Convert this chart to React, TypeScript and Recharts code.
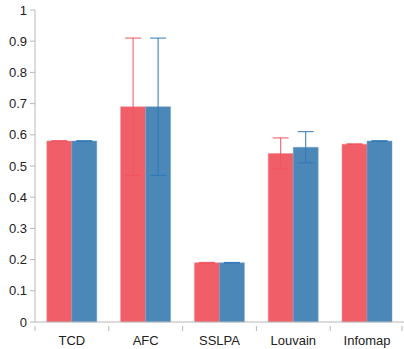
import React from 'react';
import { BarChart, Bar, XAxis, YAxis, ErrorBar } from 'recharts';

const methods = ['TCD', 'AFC', 'SSLPA', 'Louvain', 'Infomap'];
const redValues = [0.58, 0.69, 0.19, 0.54, 0.57];
const redErrors = [0.001, 0.22, 0.001, 0.05, 0.001];
const blueValues = [0.58, 0.69, 0.19, 0.56, 0.58];
const blueErrors = [0.001, 0.22, 0.001, 0.05, 0.001];
const yTicks = [0, 0.1, 0.2, 0.3, 0.4, 0.5, 0.6, 0.7, 0.8, 0.9, 1];

const data = methods.map((name, i) => ({
  name,
  red: redValues[i],
  redErr: redErrors[i],
  blue: blueValues[i],
  blueErr: blueErrors[i],
}));

const axisColor = '#b8b8b8';
const textColor = '#222222';

const CategoryTick = (props: any) => {
  const { x, y, payload, index } = props;
  const half = payload?.offset ?? 37;
  const last = index === methods.length - 1;
  return (
    <g>
      <line x1={x - half} y1={y - 4} x2={x - half} y2={y + 1} stroke={axisColor} />
      {last && <line x1={x + half - 2} y1={y - 4} x2={x + half - 2} y2={y + 1} stroke={axisColor} />}
      <text x={x} y={y + 15} textAnchor="middle" fill={textColor} fontSize={13}>
        {payload.value}
      </text>
    </g>
  );
};

export default function App() {
  return (
    <div style={{ position: 'absolute', left: 0, top: 0, fontFamily: '"Liberation Sans", Arial, sans-serif' }}>
      <BarChart
        width={404}
        height={349}
        data={data}
        margin={{ top: 10, right: 0, bottom: 0, left: 0 }}
        barCategoryGap="16%"
        barGap={0}
      >
        <XAxis
          dataKey="name"
          height={27}
          tickLine={false}
          axisLine={{ stroke: axisColor }}
          tick={<CategoryTick />}
          interval={0}
        />
        <YAxis
          width={35}
          domain={[0, 1]}
          ticks={yTicks}
          interval={0}
          tickSize={5}
          tickMargin={3}
          tickLine={{ stroke: axisColor }}
          axisLine={{ stroke: axisColor }}
          tick={{ fill: textColor, fontSize: 13 }}
        />
        <Bar dataKey="red" fill="#f05e68" stroke="#f48a91" strokeWidth={0.5} isAnimationActive={false}>
          <ErrorBar dataKey="redErr" width={8} stroke="#f0545e" strokeWidth={1} />
        </Bar>
        <Bar dataKey="blue" fill="#4b88b8" stroke="#7aa7cc" strokeWidth={0.5} isAnimationActive={false}>
          <ErrorBar dataKey="blueErr" width={8} stroke="#2f78b8" strokeWidth={1} />
        </Bar>
      </BarChart>
    </div>
  );
}
